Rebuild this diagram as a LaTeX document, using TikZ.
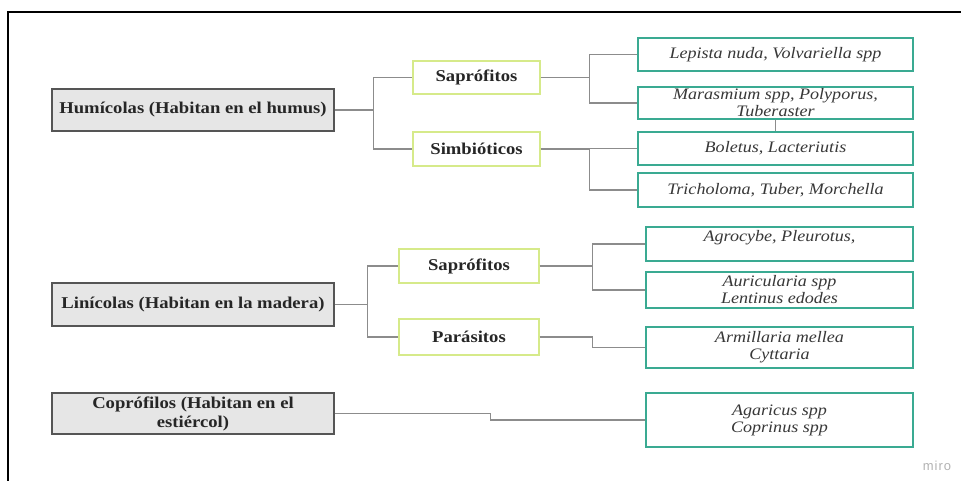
\documentclass[tikz,border=0pt]{standalone}
\usepackage{fontspec}
\setmainfont[FakeStretch=1.13]{Liberation Serif}
\newfontfamily\mirofont[LetterSpace=8]{Liberation Sans}
\definecolor{boxgray}{HTML}{E6E6E6}
\definecolor{boxedge}{HTML}{555555}
\definecolor{limeedge}{HTML}{D6EA8A}
\definecolor{tealedge}{HTML}{3AAA92}
\definecolor{connline}{HTML}{8C8C8C}
\tikzset{
  mainbox/.style={draw=boxedge, line width=1.4pt, fill=boxgray, minimum width=282pt, inner sep=0pt, align=center,
    font=\fontsize{16.5}{19}\selectfont\bfseries, text=black!85},
  subbox/.style={draw=limeedge, line width=1.4pt, fill=white, inner sep=0pt, align=center,
    font=\fontsize{16.5}{19}\selectfont\bfseries, text=black!85},
  leafbox/.style={draw=tealedge, line width=1.4pt, fill=white, inner sep=0pt, align=center,
    font=\fontsize{16}{17}\selectfont\itshape, text=black!78},
  conn/.style={draw=connline, line width=1.1pt},
}
\begin{document}
\begin{tikzpicture}[x=1pt, y=-1pt]
\useasboundingbox (0,0) rectangle (961,481);
\draw[line width=1.6pt] (961,12) -- (8,12) -- (8,481);

% group 1
\node[mainbox, minimum height=42pt] (hum) at (193,110) {Humícolas (Habitan en el humus)};
\node[subbox, minimum width=127pt, minimum height=33pt] (sap1) at (476.5,77.5) {Saprófitos};
\node[subbox, minimum width=127pt, minimum height=34pt] (sim) at (476.5,149) {Simbióticos};
\node[leafbox, minimum width=275pt, minimum height=33pt] (lep) at (775.5,54.5) {Lepista nuda, Volvariella spp};
\node[leafbox, minimum width=275pt, minimum height=32pt] (mar) at (775.5,103) {Marasmium spp, Polyporus,\\Tuberaster};
\node[leafbox, minimum width=275pt, minimum height=33pt] (bol) at (775.5,148.5) {Boletus, Lacteriutis};
\node[leafbox, minimum width=275pt, minimum height=34pt] (tri) at (775.5,190) {Tricholoma, Tuber, Morchella};

% group 2
\node[mainbox, minimum height=43pt] (lin) at (193,304.5) {Linícolas (Habitan en la madera)};
\node[subbox, minimum width=140pt, minimum height=34pt] (sap2) at (469,266) {Saprófitos};
\node[subbox, minimum width=140pt, minimum height=36pt] (par) at (469,337) {Parásitos};
\node[leafbox, minimum width=267pt, minimum height=34pt] (agr) at (779.5,244) {Agrocybe, Pleurotus,\\\mbox{}};
\node[leafbox, minimum width=267pt, minimum height=36pt] (aur) at (779.5,290) {Auricularia spp\\Lentinus edodes};
\node[leafbox, minimum width=267pt, minimum height=41pt] (arm) at (779.5,347.5) {Armillaria mellea\\Cyttaria};

% group 3
\node[mainbox, minimum height=41pt] (cop) at (193,413.5) {Coprófilos (Habitan en el\\estiércol)};
\node[leafbox, minimum width=267pt, minimum height=54pt] (aga) at (779.5,420) {Agaricus spp\\Coprinus spp};

% connectors
\draw[conn] (hum.east) -- ++(39,0) coordinate (j1);
\draw[conn] (j1) |- (sap1.west);
\draw[conn] (j1) |- (sim.west);
\draw[conn] (sap1.east) -- ++(49,0) coordinate (j2);
\draw[conn] (j2) |- (lep.west);
\draw[conn] (j2) |- (mar.west);
\draw[conn] (sim.east) -- ++(49,0) coordinate (j3);
\draw[conn] (j3) |- (bol.west);
\draw[conn] (j3) |- (tri.west);
\draw[conn] (mar.south) -- (bol.north);

\draw[conn] (lin.east) -- ++(33,0) coordinate (j4);
\draw[conn] (j4) |- (sap2.west);
\draw[conn] (j4) |- (par.west);
\draw[conn] (sap2.east) -- ++(53,0) coordinate (j5);
\draw[conn] (j5) |- (agr.west);
\draw[conn] (j5) |- (aur.west);
\draw[conn] (par.east) -- ++(53,0) coordinate (j6);
\draw[conn] (j6) |- (arm.west);

\draw[conn] (cop.east) -- ++(156,0) coordinate (j7);
\draw[conn] (j7) |- (aga.west);

\node[font=\mirofont\fontsize{13}{15}\selectfont, text=black!30] (miro) at (937,466) {miro};
\end{tikzpicture}
\end{document}
